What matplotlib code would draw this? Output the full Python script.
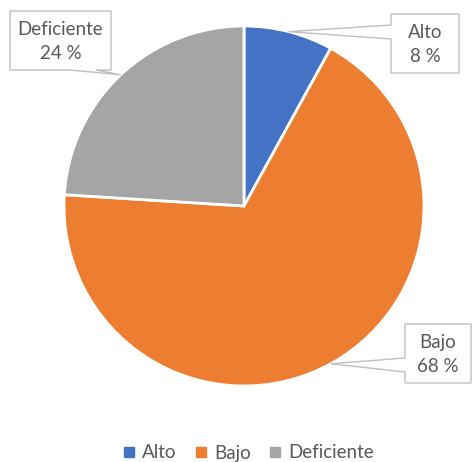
import matplotlib.pyplot as plt
from matplotlib.patches import Polygon
from matplotlib.lines import Line2D
import numpy as np

W, H = 474, 462

categorias = ['Alto', 'Bajo', 'Deficiente']
porcentajes = [8, 68, 24]
colores = ['#4472C4', '#ED7D31', '#A5A5A5']

plt.rcParams['font.family'] = ['Lato', 'DejaVu Sans']
gris = '#595959'

fig = plt.figure(figsize=(W / 100, H / 100), dpi=100)
ax = fig.add_axes([0, 0, 1, 1])

cx, cy, r = 244, 206, 180  # centro en pixeles desde arriba

ax.pie(porcentajes, colors=colores, startangle=90, counterclock=False,
       center=(cx, H - cy), radius=r,
       wedgeprops=dict(edgecolor='white', linewidth=2))
ax.set_xlim(0, W)
ax.set_ylim(0, H)
ax.set_aspect('equal')
ax.axis('off')

# cajas de etiqueta: (x0, x1, y0, y1), lado del puntero, base del puntero
cajas = {
    'Alto': ((391, 459, 14, 73), 'left', (25, 39)),
    'Bajo': ((405, 471, 324, 383), 'left', (358, 372)),
    'Deficiente': ((10, 111, 11, 70), 'bottom', (70, 96)),
}

total = sum(porcentajes)
acum = 0
for cat, val in zip(categorias, porcentajes):
    ang = np.deg2rad(90 - 360 * (acum + val / 2) / total)
    acum += val
    tx = cx + r * np.cos(ang)
    ty = cy - r * np.sin(ang)
    (x0, x1, y0, y1), lado, (b0, b1) = cajas[cat]
    if lado == 'left':
        pts = [(x0, y0), (x1, y0), (x1, y1), (x0, y1), (x0, b1), (tx, ty), (x0, b0)]
    else:
        pts = [(x0, y0), (x1, y0), (x1, y1), (b1, y1), (tx, ty), (b0, y1), (x0, y1)]
    pts = [(px, H - py) for px, py in pts]
    ax.add_patch(Polygon(pts, closed=True, facecolor='white',
                         edgecolor='#BFBFBF', linewidth=1, zorder=5))
    ax.text((x0 + x1) / 2, H - (y0 + y1) / 2 - 1, f'{cat}\n{val} %',
            ha='center', va='center', fontsize=13.5, color=gris,
            linespacing=1.45, zorder=6)

handles = [Line2D([], [], marker='s', linestyle='none', markersize=7,
                  markerfacecolor=c, markeredgecolor=c) for c in colores]
fig.legend(handles, categorias, loc='center', bbox_to_anchor=(0.525, 9 / H),
           ncol=3, frameon=False, fontsize=13.5, labelcolor=gris,
           handlelength=0.6, handletextpad=0.4, columnspacing=1.0)

fig.savefig('out.png', dpi=100)
